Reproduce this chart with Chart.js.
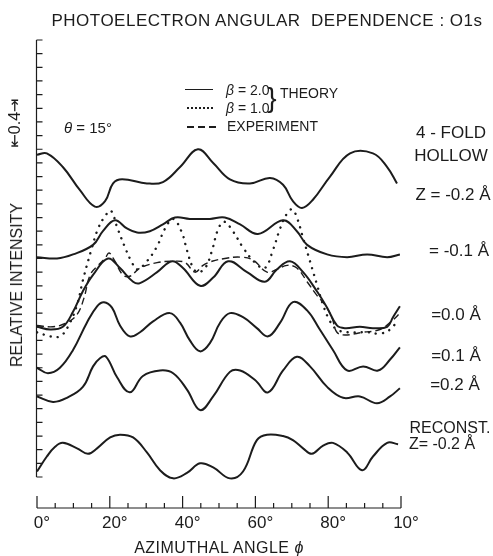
<!DOCTYPE html>
<html>
<head>
<meta charset="utf-8">
<title>Photoelectron angular dependence: O1s</title>
<script src="https://cdn.jsdelivr.net/npm/chart.js@4.4.1/dist/chart.umd.min.js"></script>
<style>
    html, body { margin: 0; padding: 0; background: #fff; }
    #wrap {
        position: relative; width: 493px; height: 556px; overflow: hidden;
        font-family: 'Liberation Sans', 'DejaVu Sans', sans-serif; color: #1c1c1c;
    }
    #chart { position: absolute; left: 0; top: 0; }
    .c { position: absolute; white-space: pre; line-height: 1; transform: translate(-50%, -50%); }
    .l { position: absolute; white-space: pre; line-height: 1; transform: translateY(-50%); }
    .rot { position: absolute; white-space: pre; line-height: 1; transform: translate(-50%, -50%) rotate(-90deg); }
    .key { position: absolute; height: 0; }
</style>
</head>
<body>
<div id="wrap">
    <canvas id="chart" width="493" height="556"></canvas>

    <div class="c" style="left:267px; top:20px; font-size:17px; letter-spacing:0.5px;">PHOTOELECTRON ANGULAR  DEPENDENCE : O1s</div>

    <!-- key -->
    <div class="key" style="left:185px; top:89px; width:28px; border-top:1.5px solid #1c1c1c;"></div>
    <div class="key" style="left:187px; top:107px; width:26px; border-top:2.5px dotted #1c1c1c;"></div>
    <div class="key" style="left:187px; top:126px; width:30px; height:1.5px; background:repeating-linear-gradient(90deg, #1c1c1c 0 7px, transparent 7px 11px);"></div>
    <div class="l" style="left:226px; top:90px; font-size:14px;"><i>β</i> = 2.0</div>
    <div class="l" style="left:226px; top:108px; font-size:14px;"><i>β</i> = 1.0</div>
    <div class="c" style="left:272px; top:98px; font-size:28px; font-weight:300;">}</div>
    <div class="l" style="left:280px; top:93px; font-size:14px;">THEORY</div>
    <div class="l" style="left:227px; top:126px; font-size:14px;">EXPERIMENT</div>
    <div class="l" style="left:64px; top:127px; font-size:15px;"><i>θ</i> = 15°</div>

    <!-- intensity scale bar and axis title -->
    <div class="rot" style="left:15px; top:123px; font-size:16px;">⇤0.4⇥</div>
    <div class="rot" style="left:17px; top:285px; font-size:16px;">RELATIVE INTENSITY</div>

    <!-- curve labels -->
    <div class="c" style="left:451px; top:132px; font-size:17px;">4 - FOLD</div>
    <div class="c" style="left:451px; top:155px; font-size:17px;">HOLLOW</div>
    <div class="c" style="left:453px; top:194px; font-size:17px;">Z = -0.2 Å</div>
    <div class="c" style="left:459px; top:250px; font-size:17px;">= -0.1 Å</div>
    <div class="c" style="left:456px; top:314px; font-size:17px;">=0.0 Å</div>
    <div class="c" style="left:456px; top:355px; font-size:17px;">=0.1 Å</div>
    <div class="c" style="left:455px; top:384px; font-size:17px;">=0.2 Å</div>
    <div class="c" style="left:450px; top:428px; font-size:16px;">RECONST.</div>
    <div class="c" style="left:442px; top:444px; font-size:16px;">Z= -0.2 Å</div>

    <div class="c" style="left:219px; top:548px; font-size:16px; letter-spacing:0.5px;">AZIMUTHAL ANGLE <i>ϕ</i></div>
</div>

<script>
// Azimuthal angle (deg) on the bottom axis
const xTickValues = [0, 20, 40, 60, 80, 100];
const xTickLabels = ['0°', '20°', '40°', '60°', '80°', '10°'];

// Relative intensity, each curve carries its own vertical offset (one tick = 0.1)
const hollowM02Phi = [0, 2.7, 7.1, 11.8, 15.9, 18.7, 20.9, 23.4, 30.2, 34.6, 39.3, 44.2, 48.4, 53.0, 58.5, 64.0, 67.6, 70.3, 72.8, 75.8, 80.5, 86.0, 92.3, 96.2, 98.9];
const hollowM02 = [2.36, 2.37, 2.27, 2.10, 1.98, 2.02, 2.15, 2.18, 2.15, 2.16, 2.27, 2.40, 2.30, 2.18, 2.15, 2.19, 2.14, 2.02, 1.97, 2.03, 2.20, 2.37, 2.37, 2.27, 2.15];

const hollowM01Phi = [0, 5.5, 9.9, 15.4, 18.1, 21.4, 24.7, 27.5, 31.0, 34.6, 37.9, 42.0, 47.5, 51.6, 55.8, 60.7, 67.6, 71.4, 74.2, 79.7, 85.2, 90.7, 96.2, 99.7];
const hollowM01 = [1.61, 1.60, 1.63, 1.70, 1.80, 1.88, 1.82, 1.79, 1.80, 1.85, 1.90, 1.89, 1.89, 1.90, 1.85, 1.78, 1.88, 1.80, 1.70, 1.63, 1.61, 1.63, 1.61, 1.63];

const hollow00Phi = [0, 3.6, 7.1, 9.9, 12.6, 15.4, 19.5, 22.8, 26.4, 28.3, 33.0, 37.1, 40.1, 44.8, 48.4, 52.5, 57.7, 62.6, 65.9, 69.5, 73.1, 76.9, 79.7, 82.4, 84.6, 88.7, 92.3, 96.2, 97.8, 99.7];
const hollow00 = [1.10, 1.08, 1.10, 1.21, 1.36, 1.48, 1.60, 1.53, 1.43, 1.42, 1.50, 1.58, 1.53, 1.40, 1.46, 1.58, 1.50, 1.43, 1.52, 1.58, 1.50, 1.36, 1.24, 1.11, 1.09, 1.10, 1.09, 1.10, 1.17, 1.25];

const beta1Phi = [0, 3.6, 6.3, 8.5, 11.0, 12.6, 15.1, 16.8, 18.7, 20.3, 22.0, 24.2, 26.1, 27.5, 30.2, 33.0, 35.2, 37.4, 39.8, 41.2, 42.9, 44.2, 46.2, 48.1, 49.7, 51.4, 53.8, 56.6, 59.9, 62.6, 64.8, 66.8, 68.7, 70.1, 71.4, 73.1, 75.0, 76.9, 78.6, 80.5, 82.4, 85.2, 90.7, 94.2, 97.0, 99.2];
const beta1 = [1.06, 1.03, 1.03, 1.10, 1.26, 1.44, 1.68, 1.82, 1.91, 1.95, 1.83, 1.68, 1.57, 1.52, 1.58, 1.69, 1.82, 1.89, 1.79, 1.66, 1.53, 1.50, 1.53, 1.66, 1.81, 1.87, 1.80, 1.68, 1.57, 1.53, 1.66, 1.82, 1.93, 1.96, 1.90, 1.75, 1.58, 1.41, 1.26, 1.14, 1.08, 1.06, 1.06, 1.05, 1.08, 1.15];

const exptPhi = [0, 4.4, 8.2, 11.0, 12.9, 14.6, 16.8, 18.7, 19.8, 21.4, 23.6, 25.5, 28.3, 33.0, 37.4, 40.7, 43.4, 45.6, 48.1, 51.6, 55.8, 59.3, 63.2, 65.9, 68.7, 71.4, 74.2, 76.9, 79.1, 81.0, 82.4, 84.6, 89.6, 94.2, 97.8, 99.7];
const expt = [1.11, 1.10, 1.13, 1.19, 1.31, 1.48, 1.55, 1.60, 1.64, 1.58, 1.48, 1.47, 1.53, 1.57, 1.58, 1.57, 1.50, 1.55, 1.58, 1.60, 1.61, 1.59, 1.50, 1.52, 1.55, 1.53, 1.43, 1.33, 1.26, 1.17, 1.06, 1.04, 1.06, 1.08, 1.15, 1.20];

const hollow01Phi = [0, 3.0, 6.3, 9.9, 13.7, 16.5, 18.4, 20.6, 22.8, 25.5, 28.3, 31.9, 36.5, 39.3, 42.0, 44.8, 47.5, 50.3, 53.0, 56.6, 60.4, 63.5, 66.8, 70.3, 74.2, 77.7, 81.3, 85.2, 89.6, 93.7, 97.0, 99.7];
const hollow01 = [0.80, 0.76, 0.80, 0.93, 1.13, 1.25, 1.28, 1.24, 1.11, 1.03, 1.06, 1.14, 1.20, 1.13, 1.00, 0.92, 0.98, 1.13, 1.20, 1.17, 1.09, 1.03, 1.13, 1.28, 1.22, 1.08, 0.93, 0.78, 0.81, 0.78, 0.86, 0.95];

const hollow02Phi = [0, 4.4, 8.2, 12.6, 15.4, 17.3, 19.0, 22.0, 25.5, 29.1, 33.8, 37.4, 41.2, 44.8, 48.4, 53.0, 55.8, 59.9, 63.5, 67.6, 71.4, 75.0, 79.7, 84.1, 88.7, 93.4, 97.0, 99.7];
const hollow02 = [0.59, 0.55, 0.58, 0.66, 0.81, 0.87, 0.88, 0.73, 0.62, 0.74, 0.78, 0.76, 0.64, 0.49, 0.59, 0.77, 0.78, 0.71, 0.62, 0.78, 0.88, 0.81, 0.66, 0.58, 0.59, 0.54, 0.59, 0.65];

const reconstPhi = [0, 2.7, 4.9, 7.1, 11.0, 14.0, 16.5, 20.1, 22.8, 26.4, 30.2, 33.8, 37.4, 41.2, 44.8, 48.4, 53.0, 56.6, 60.4, 63.2, 67.6, 70.3, 73.1, 75.5, 78.6, 81.3, 85.2, 89.3, 92.3, 96.2, 99.2];
const reconst = [0.04, 0.15, 0.22, 0.25, 0.21, 0.17, 0.21, 0.29, 0.31, 0.29, 0.18, 0.05, -0.01, 0.03, 0.10, 0.07, -0.01, 0.04, 0.27, 0.31, 0.30, 0.27, 0.21, 0.17, 0.23, 0.25, 0.18, 0.05, 0.15, 0.25, 0.24];

const INK = '#1c1c1c';

function pairs(phi, vals) {
    return phi.map((p, i) => ({ x: p, y: vals[i] }));
}

function curve(label, phi, vals, extra) {
    return Object.assign({
        label: label,
        data: pairs(phi, vals),
        borderColor: INK,
        borderWidth: 2,
        pointRadius: 0,
        fill: false,
        tension: 0.4
    }, extra || {});
}

// Axes are drawn the way the paper does: ticks point inward
const paperAxes = {
    id: 'paperAxes',
    afterDraw(chart) {
        const { ctx, chartArea } = chart;
        const x = chart.scales.x;
        const y = chart.scales.y;
        ctx.save();
        ctx.strokeStyle = INK;
        ctx.lineWidth = 1.2;

        // intensity scale on the left, 0 to 3.2 in steps of 0.1
        const x0 = x.getPixelForValue(0) - 0.5;
        ctx.beginPath();
        ctx.moveTo(x0, y.getPixelForValue(3.2));
        ctx.lineTo(x0, y.getPixelForValue(0));
        for (let i = 0; i <= 32; i++) {
            const py = y.getPixelForValue(i / 10);
            ctx.moveTo(x0, py);
            ctx.lineTo(x0 + 6, py);
        }
        ctx.stroke();

        // azimuthal angle axis
        const yb = chartArea.bottom;
        ctx.beginPath();
        ctx.moveTo(x.getPixelForValue(0), yb);
        ctx.lineTo(x.getPixelForValue(100), yb);
        for (let a = 0; a <= 100; a += 5) {
            const px = x.getPixelForValue(a);
            const len = (a % 20 === 0) ? 12 : 5;
            ctx.moveTo(px, yb);
            ctx.lineTo(px, yb - len);
        }
        ctx.stroke();
        ctx.restore();
    }
};

const chart = new Chart(document.getElementById('chart').getContext('2d'), {
    type: 'line',
    data: {
        datasets: [
            curve('4-fold hollow Z=-0.2', hollowM02Phi, hollowM02),
            curve('Z=-0.1', hollowM01Phi, hollowM01),
            curve('beta=1.0', beta1Phi, beta1, { borderWidth: 2.4, borderDash: [0.1, 7], borderCapStyle: 'round' }),
            curve('Experiment', exptPhi, expt, { borderWidth: 1.4, borderDash: [7, 4] }),
            curve('Z=0.0', hollow00Phi, hollow00),
            curve('Z=0.1', hollow01Phi, hollow01),
            curve('Z=0.2', hollow02Phi, hollow02),
            curve('Reconst. Z=-0.2', reconstPhi, reconst)
        ]
    },
    options: {
        responsive: false,
        animation: false,
        devicePixelRatio: 1,
        layout: { padding: { left: 37, top: 40, right: 92, bottom: 48 } },
        plugins: { legend: { display: false }, title: { display: false }, tooltip: { enabled: false } },
        scales: {
            x: { type: 'linear', min: 0, max: 100, display: false },
            y: { type: 'linear', min: -0.227, max: 3.2, display: false }
        }
    },
    plugins: [paperAxes]
});

// bottom tick labels, placed through the x scale
const wrap = document.getElementById('wrap');
xTickValues.forEach((v, i) => {
    const d = document.createElement('div');
    d.className = 'c';
    d.style.left = (chart.scales.x.getPixelForValue(v) + 5) + 'px';
    d.style.top = '522px';
    d.style.fontSize = '17px';
    d.textContent = xTickLabels[i];
    wrap.appendChild(d);
});
</script>
</body>
</html>
